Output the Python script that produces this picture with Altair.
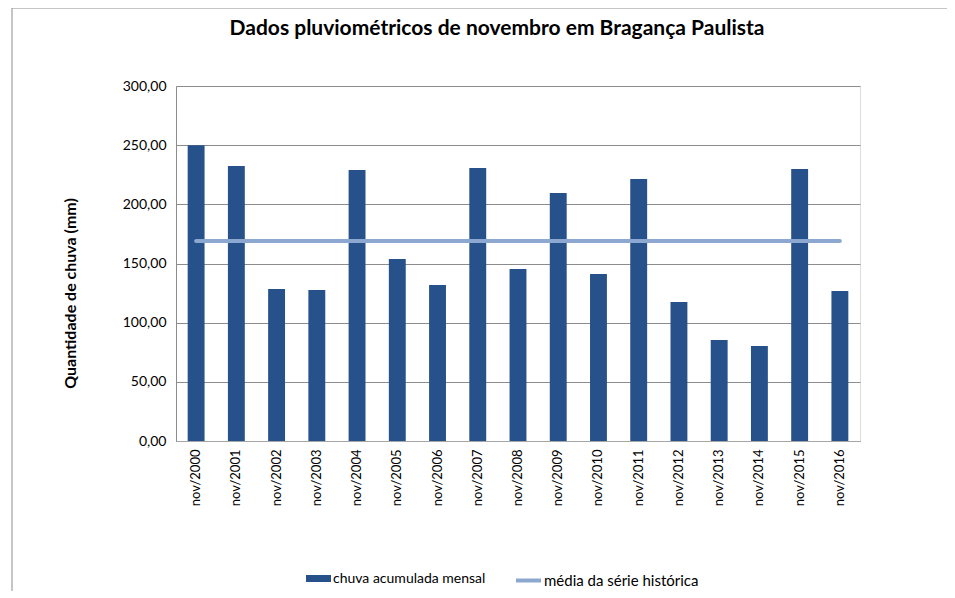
import altair as alt
import pandas as pd

categories = ["nov/2000", "nov/2001", "nov/2002", "nov/2003", "nov/2004", "nov/2005",
              "nov/2006", "nov/2007", "nov/2008", "nov/2009", "nov/2010", "nov/2011",
              "nov/2012", "nov/2013", "nov/2014", "nov/2015", "nov/2016"]
chuva = [250.0, 232.4, 128.4, 127.6, 229.0, 153.8, 131.8, 230.7, 145.4, 209.6,
         141.1, 221.4, 117.5, 85.4, 80.3, 229.9, 126.8]
media = 169.0
serie_barras = "chuva acumulada mensal"
serie_linha = "média da série histórica"
y_ticks = [0, 50, 100, 150, 200, 250, 300]

df = pd.DataFrame({
    "mes": categories,
    "chuva": chuva,
    "media": [media] * len(categories),
    "s1": [serie_barras] * len(categories),
    "s2": [serie_linha] * len(categories),
})

FONT = "Lato"
BAR = "#26518A"
LINE = "#8DA8D0"
GRID = "#8c8c8c"

x_enc = alt.X("mes:N", sort=categories,
              scale=alt.Scale(paddingInner=0.58, paddingOuter=0.29),
              axis=alt.Axis(title=None, labelAngle=270, labelFontSize=13, labelFont=FONT,
                            labelColor="#000000", labelPadding=8, ticks=False,
                            domainColor="#a6a6a6", labelAlign="right", labelBaseline="middle"))

y_scale = alt.Scale(domain=[0, 300], nice=False)

bars = alt.Chart(df).mark_bar(color=BAR).encode(
    x=x_enc,
    y=alt.Y("chuva:Q", scale=y_scale,
            axis=alt.Axis(title="Quantidade de chuva (mm)", values=y_ticks,
                          labelExpr="replace(format(datum.value, '.2f'), '.', ',')",
                          labelFontSize=14, labelFont=FONT, labelColor="#000000",
                          labelPadding=10, ticks=False, grid=True, gridColor=GRID,
                          domainColor=GRID, titleFont=FONT, titleFontSize=16,
                          titleFontWeight="bold", titleColor="#000000",
                          titleX=-106, titleY=207, titleAngle=270,
                          titleAlign="center", titleBaseline="middle")),
    color=alt.Color("s1:N", scale=alt.Scale(range=[BAR]),
                    legend=alt.Legend(title=None, orient="none", legendX=130, legendY=480,
                                      symbolType="M-1,-0.28H1V0.28H-1Z", symbolSize=625,
                                      labelFont=FONT, labelFontSize=14, labelColor="#000000",
                                      labelOffset=2, symbolStrokeWidth=0)),
)

line = alt.Chart(df).mark_line(strokeWidth=4, strokeCap="round").encode(
    x=alt.X("mes:N", sort=categories),
    y=alt.Y("media:Q", scale=y_scale),
    stroke=alt.Stroke("s2:N", scale=alt.Scale(range=[LINE]),
                      legend=alt.Legend(title=None, orient="none", legendX=338, legendY=480,
                                        symbolType="stroke", symbolSize=625,
                                        symbolStrokeWidth=4, labelFont=FONT,
                                        labelFontSize=15, labelColor="#000000",
                                        labelOffset=1)),
)

frame_left = alt.Chart(pd.DataFrame({"a": [0]})).mark_rule(color="#8c8c8c", strokeWidth=1).encode(
    x=alt.value(-164), y=alt.value(-78), y2=alt.value(510))
frame_top = alt.Chart(pd.DataFrame({"a": [0]})).mark_rule(color="#8c8c8c", strokeWidth=1).encode(
    x=alt.value(-164), x2=alt.value(790), y=alt.value(-78))

chart = alt.layer(bars, line, frame_left, frame_top).properties(
    width=684, height=355,
    title=alt.TitleParams("Dados pluviométricos de novembro em Bragança Paulista",
                          font=FONT, fontSize=21, fontWeight="bold", color="#000000",
                          anchor="middle", offset=0, dx=-21, dy=31),
    autosize=alt.AutoSizeParams(type="none"),
    padding={"left": 168, "top": 78, "right": 87, "bottom": 150},
).configure_view(stroke=None).configure(background="white")

chart.save("out.html", embed_options={"renderer": "svg", "actions": False})
